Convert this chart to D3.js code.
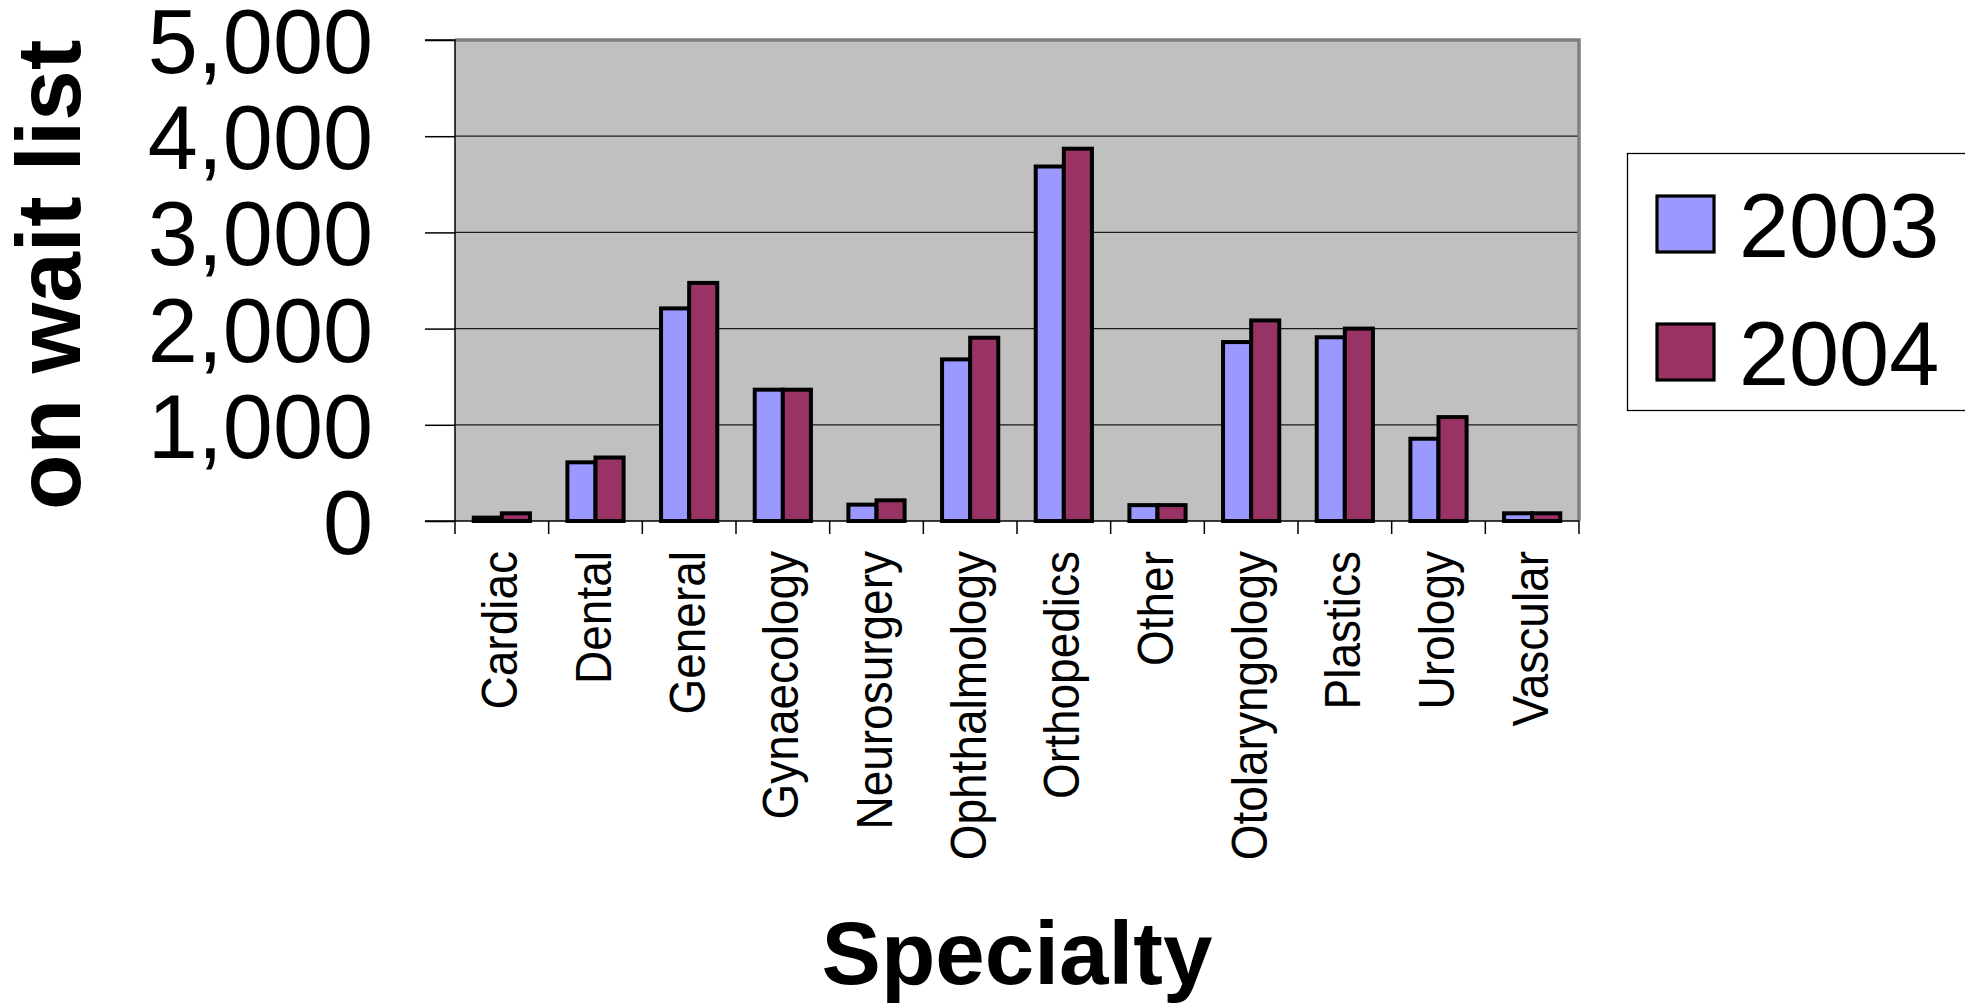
<!DOCTYPE html>
<html>
<head>
<meta charset="utf-8">
<script src="https://cdn.jsdelivr.net/npm/d3@7/dist/d3.min.js"></script>
<style>
  html, body { margin: 0; padding: 0; background: #fff; overflow: hidden; }
  svg { display: block; }
  text { font-family: "Liberation Sans", Arial, sans-serif; fill: #000; }
</style>
</head>
<body>
<svg id="chart" width="1965" height="1007"></svg>
<script>
const categories = ["Cardiac","Dental","General","Gynaecology","Neurosurgery","Ophthalmology","Orthopedics","Other","Otolaryngology","Plastics","Urology","Vascular"];
const seriesNames = ["2003","2004"];
const values2003 = [35, 610, 2210, 1365, 170, 1680, 3685, 165, 1860, 1910, 855, 80];
const values2004 = [80, 660, 2475, 1365, 215, 1905, 3870, 165, 2085, 2000, 1080, 80];
const yTicks = [0, 1000, 2000, 3000, 4000, 5000];
const colors = ["#9999FF", "#993366"];
const yTitle = "on wait list";
const xTitle = "Specialty";

const svg = d3.select("#chart");
const plot = { left: 455, right: 1579, top: 40, bottom: 521 };

const x = d3.scaleBand().domain(categories).range([plot.left, plot.right]).padding(0);
const bw = x.bandwidth() * 0.3;
const xs = d3.scaleBand().domain(seriesNames)
  .range([(x.bandwidth() - 2 * bw) / 2, (x.bandwidth() - 2 * bw) / 2 + 2 * bw]).padding(0);
const y = d3.scaleLinear().domain([0, 5000]).range([plot.bottom, plot.top]);

// plot background
svg.append("rect").attr("x", plot.left).attr("y", plot.top)
  .attr("width", plot.right - plot.left).attr("height", plot.bottom - plot.top)
  .attr("fill", "#C0C0C0");

// gridlines
svg.append("g").selectAll("line").data(yTicks.filter(d => d > 0 && d < 5000)).join("line")
  .attr("x1", plot.left).attr("x2", plot.right)
  .attr("y1", d => y(d)).attr("y2", d => y(d))
  .attr("stroke", "#1a1a1a").attr("stroke-width", 1.3);

// plot border (gray top/right)
svg.append("path")
  .attr("d", `M${plot.left},${plot.top}H${plot.right}V${plot.bottom}`)
  .attr("fill", "none").attr("stroke", "#808080").attr("stroke-width", 3.5);

// bars
const data = categories.map((c, i) => ({ c, v: [values2003[i], values2004[i]] }));
const groups = svg.append("g").selectAll("g").data(data).join("g")
  .attr("transform", d => `translate(${x(d.c)},0)`);
groups.selectAll("rect").data(d => d.v.map((v, j) => ({ v, s: seriesNames[j], j }))).join("rect")
  .attr("x", d => xs(d.s))
  .attr("width", xs.bandwidth())
  .attr("y", d => y(d.v))
  .attr("height", d => y(0) - y(d.v))
  .attr("fill", d => colors[d.j])
  .attr("stroke", "#000").attr("stroke-width", 4);

// y axis
const yAxis = d3.axisLeft(y).tickValues(yTicks).tickSize(30).tickPadding(52)
  .tickFormat(d3.format(","));
const yg = svg.append("g").attr("transform", `translate(${plot.left},0)`).call(yAxis);
yg.select(".domain").attr("stroke", "#000").attr("stroke-width", 1.5)
  .attr("d", `M-30,${plot.top}H0V${plot.bottom}H-30`);
yg.selectAll(".tick line").attr("stroke", "#000").attr("stroke-width", 1.5);
yg.selectAll(".tick text").attr("font-size", 90).attr("dy", "0.36em")
  .style("font-family", '"Liberation Sans", Arial, sans-serif').attr("fill", "#000");

// x axis (ticks at category boundaries)
svg.append("line").attr("x1", plot.left).attr("x2", plot.right)
  .attr("y1", plot.bottom).attr("y2", plot.bottom)
  .attr("stroke", "#000").attr("stroke-width", 1.5);
const bounds = categories.map(c => x(c)).concat([plot.right]);
svg.append("g").selectAll("line").data(bounds).join("line")
  .attr("x1", d => d).attr("x2", d => d)
  .attr("y1", plot.bottom).attr("y2", plot.bottom + 13)
  .attr("stroke", "#000").attr("stroke-width", 1.5);

// x labels
svg.append("g").selectAll("text").data(categories).join("text")
  .attr("transform", d => `translate(${x(d) + x.bandwidth() / 2 - 2},551) rotate(-90) scale(1,1.08)`)
  .attr("text-anchor", "end").attr("dy", "0.35em")
  .attr("font-size", 46).text(d => d);

// axis titles
svg.append("text").attr("transform", `translate(80,510) rotate(-90)`)
  .attr("text-anchor", "start").attr("font-size", 91).attr("font-weight", "bold")
  .text(yTitle);
svg.append("text").attr("x", (plot.left + plot.right) / 2).attr("y", 984)
  .attr("text-anchor", "middle").attr("font-size", 89).attr("font-weight", "bold")
  .text(xTitle);

// legend
const lg = svg.append("g");
lg.append("rect").attr("x", 1627.5).attr("y", 153.5).attr("width", 400).attr("height", 257)
  .attr("fill", "#fff").attr("stroke", "#000").attr("stroke-width", 1.3);
const items = lg.selectAll("g.item").data(seriesNames).join("g").attr("class", "item")
  .attr("transform", (d, i) => `translate(0,${i * 128})`);
items.append("rect").attr("x", 1657).attr("y", 196).attr("width", 57).attr("height", 56)
  .attr("fill", (d, i) => colors[i]).attr("stroke", "#000").attr("stroke-width", 3.2);
items.append("text").attr("x", 1739).attr("y", 257).attr("font-size", 90).text(d => d);
</script>
</body>
</html>
